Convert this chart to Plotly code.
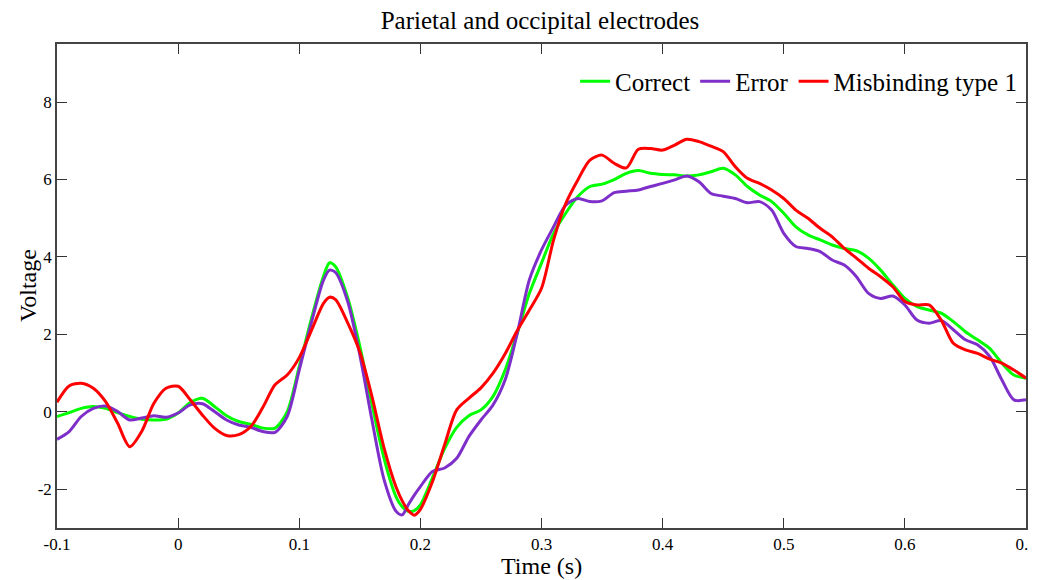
import plotly.graph_objects as go

time_s = [-0.1, -0.09, -0.08, -0.07, -0.06, -0.05, -0.04, -0.03, -0.02, -0.01,
          0.0, 0.01, 0.02, 0.03, 0.04, 0.05, 0.06, 0.07, 0.08, 0.09,
          0.1, 0.11, 0.12, 0.125, 0.13, 0.14, 0.15, 0.16, 0.17, 0.18, 0.185,
          0.19, 0.195, 0.2, 0.21, 0.22, 0.23, 0.24, 0.25, 0.26, 0.27, 0.28, 0.29,
          0.3, 0.31, 0.32, 0.33, 0.34, 0.35, 0.36, 0.37, 0.38, 0.39,
          0.4, 0.41, 0.42, 0.43, 0.44, 0.45, 0.46, 0.47, 0.48, 0.49,
          0.5, 0.51, 0.52, 0.53, 0.54, 0.55, 0.56, 0.57, 0.58, 0.59,
          0.6, 0.61, 0.62, 0.63, 0.64, 0.65, 0.66, 0.67, 0.68, 0.69, 0.7]

correct = [-0.12, -0.02, 0.09, 0.14, 0.09, -0.02, -0.12, -0.19, -0.21, -0.19,
           -0.03, 0.24, 0.35, 0.14, -0.10, -0.25, -0.32, -0.42, -0.42, 0.0,
           1.17, 2.40, 3.50, 3.85, 3.75, 2.95, 1.70, 0.20, -1.20, -2.20, -2.45,
           -2.57, -2.55, -2.40, -1.70, -0.95, -0.40, -0.10, 0.05, 0.40, 1.08, 2.03, 3.06,
           3.84, 4.61, 5.13, 5.56, 5.82, 5.88, 6.00, 6.16, 6.23, 6.16,
           6.13, 6.12, 6.09, 6.12, 6.20, 6.29, 6.12, 5.82, 5.60, 5.43,
           5.13, 4.78, 4.57, 4.44, 4.31, 4.22, 4.16, 3.97, 3.66, 3.28,
           2.93, 2.72, 2.63, 2.55, 2.33, 2.07, 1.86, 1.64, 1.26, 0.95, 0.87]

error = [-0.71, -0.51, -0.12, 0.09, 0.15, 0.01, -0.21, -0.16, -0.10, -0.14,
         -0.03, 0.18, 0.21, 0.01, -0.21, -0.34, -0.40, -0.51, -0.53, -0.12,
         1.08, 2.30, 3.40, 3.66, 3.60, 2.85, 1.47, -0.21, -1.75, -2.57, -2.66,
         -2.40, -2.15, -1.93, -1.54, -1.45, -1.20, -0.64, -0.21, 0.18, 0.83, 2.03, 3.41,
         4.18, 4.78, 5.34, 5.51, 5.43, 5.45, 5.66, 5.70, 5.73, 5.82,
         5.90, 5.99, 6.09, 5.94, 5.64, 5.57, 5.51, 5.40, 5.43, 5.21,
         4.61, 4.27, 4.22, 4.14, 3.92, 3.79, 3.49, 3.06, 2.93, 2.99,
         2.76, 2.37, 2.29, 2.36, 2.12, 1.86, 1.73, 1.43, 0.83, 0.31, 0.31]

misbinding = [0.25, 0.67, 0.74, 0.61, 0.27, -0.29, -0.90, -0.50, 0.22, 0.61,
              0.66, 0.31, -0.08, -0.42, -0.61, -0.59, -0.38, 0.12, 0.70, 0.95,
              1.40, 2.10, 2.80, 2.96, 2.90, 2.30, 1.55, 0.40, -0.93, -1.95, -2.30,
              -2.55, -2.67, -2.52, -1.80, -0.85, 0.05, 0.35, 0.62, 1.00, 1.50, 2.10, 2.63,
              3.19, 4.44, 5.38, 5.99, 6.50, 6.63, 6.42, 6.30, 6.78, 6.80,
              6.76, 6.89, 7.04, 6.98, 6.86, 6.72, 6.33, 6.03, 5.90, 5.73,
              5.51, 5.21, 5.00, 4.74, 4.52, 4.22, 3.97, 3.71, 3.49, 3.23,
              2.85, 2.76, 2.76, 2.37, 1.77, 1.60, 1.51, 1.36, 1.26, 1.08, 0.87]

series_names = ["Correct", "Error", "Misbinding type 1"]
series_colors = ["#00FF00", "#7F2FC9", "#FF0000"]
series_values = [correct, error, misbinding]

x_tick_vals = [-0.1, 0, 0.1, 0.2, 0.3, 0.4, 0.5, 0.6, 0.7]
x_tick_text = ["-0.1", "0", "0.1", "0.2", "0.3", "0.4", "0.5", "0.6", "0.7"]
y_tick_vals = [-2, 0, 2, 4, 6, 8]
y_tick_text = ["-2", "0", "2", "4", "6", "8"]

FONT = "Liberation Serif, Times New Roman, serif"

fig = go.Figure()
for name, color, vals in zip(series_names, series_colors, series_values):
    fig.add_trace(go.Scatter(x=time_s, y=vals, mode="lines", name=name,
                             line=dict(color=color, width=3, shape="spline", smoothing=0.8)))

# page body has an 8px default margin, so the figure is sized/offset to fit the window
fig.update_layout(
    width=1029, height=572,
    margin=dict(l=49, r=11, t=36, b=52, autoexpand=False),
    paper_bgcolor="white", plot_bgcolor="white",
    font=dict(family=FONT, color="black"),
    title=dict(text="Parietal and occipital electrodes", x=0.517, xref="container",
               xanchor="center", y=0.979, yref="container", yanchor="middle",
               font=dict(size=25, family=FONT)),
    legend=dict(orientation="h", x=0.996, xanchor="right", y=0.9225, yanchor="middle",
                font=dict(size=25, family=FONT), bgcolor="rgba(0,0,0,0)",
                itemwidth=30, tracegroupgap=0),
    showlegend=True,
    annotations=[
        dict(text="Time (s)", x=0.5, xref="paper", y=-0.079, yref="paper",
             xanchor="center", yanchor="middle", showarrow=False,
             font=dict(size=24, family=FONT)),
        dict(text="Voltage", x=-0.03, xref="paper", y=0.502, yref="paper",
             xanchor="center", yanchor="middle", showarrow=False, textangle=-90,
             font=dict(size=24, family=FONT)),
    ],
)
fig.update_xaxes(range=[-0.1, 0.7], tickvals=x_tick_vals, ticktext=x_tick_text,
                 ticks="inside", ticklen=10, tickcolor="#333", showgrid=False, zeroline=False,
                 showline=True, linecolor="#444", linewidth=1.5, mirror="ticks",
                 tickfont=dict(size=17, family=FONT), automargin=False,
                 ticklabeloverflow="allow")
fig.update_yaxes(range=[-3, 9.5], tickvals=y_tick_vals, ticktext=y_tick_text,
                 ticks="inside", ticklen=10, tickcolor="#333", showgrid=False, zeroline=False,
                 showline=True, linecolor="#444", linewidth=1.5, mirror="ticks",
                 tickfont=dict(size=17, family=FONT), automargin=False,
                 ticklabeloverflow="allow")

fig.write_html("out.html")
